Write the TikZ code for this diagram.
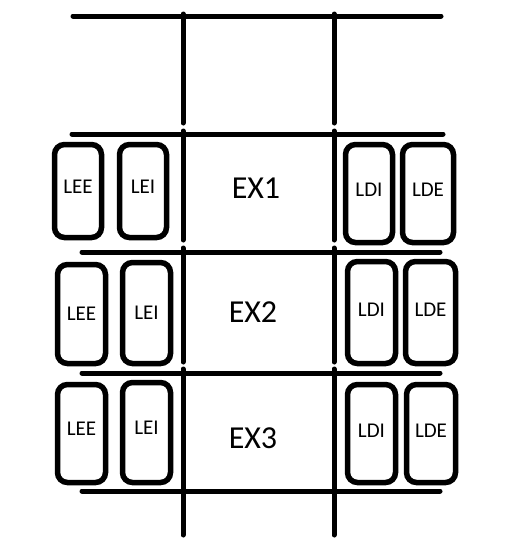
\documentclass[tikz,border=0pt]{standalone}
\usepackage{fontspec}
\setmainfont{Carlito}
\usetikzlibrary{positioning}
\tikzset{
  lane/.style={draw, line width=5.5pt, rounded corners=10pt, inner sep=0pt, minimum width=47pt, minimum height=98pt, font=\fontsize{21}{25}\selectfont},
  bar/.style={line width=5pt, line cap=round},
  stage/.style={font=\fontsize{32}{37}\selectfont}
}

\begin{document}
\begin{tikzpicture}[x=1pt, y=-1pt]
  \useasboundingbox (0,0) rectangle (518,539);
  % horizontal bars
  \draw[bar] (73,16) -- (441,16);
  \draw[bar] (72,134) -- (443,134);
  \foreach \y in {252,373,491} \draw[bar] (82,\y) -- (440,\y);
  % vertical bars, broken at each stage
  \foreach \x in {183,334} {
    \draw[bar] (\x,14) -- (\x,123);
    \draw[bar] (\x,131) -- (\x,240);
    \draw[bar] (\x,248) -- (\x,362);
    \draw[bar] (\x,369) -- (\x,535);
  }
  % stages
  \node[stage] (ex1) at (256,188) {EX1};
  \node[stage] (ex2) at (253,312) {EX2};
  \node[stage] (ex3) at (253,438) {EX3};
  % row 1
  \node[lane, minimum height=93pt, text depth=8pt] (lee1) at (78,191) {LEE};
  \node[lane, minimum height=93pt, text depth=8pt] (lei1) at (143,191) {LEI};
  \node[lane, text depth=8pt] (ldi1) at (369,193.5) {LDI};
  \node[lane, minimum width=51pt, text depth=8pt] (lde1) at (428,193.5) {LDE};
  % row 2
  \node[lane, minimum width=48pt, minimum height=99pt] (lee2) at (81.5,314) {LEE};
  \node[lane, minimum width=48pt, minimum height=101pt] (lei2) at (146.5,313) {LEI};
  \node[lane, minimum width=48pt, minimum height=102pt, text depth=6pt] (ldi2) at (371.5,312.5) {LDI};
  \node[lane, minimum width=50pt, minimum height=102pt, text depth=6pt] (lde2) at (430.5,312.5) {LDE};
  % row 3
  \node[lane, minimum width=48pt, text depth=10pt] (lee3) at (81.5,433.5) {LEE};
  \node[lane, minimum width=48pt, minimum height=100pt, text depth=10pt] (lei3) at (146.5,432.5) {LEI};
  \node[lane, minimum width=48pt, text depth=5pt] (ldi3) at (371.5,433.5) {LDI};
  \node[lane, minimum width=49pt, text depth=5pt] (lde3) at (431,433.5) {LDE};
\end{tikzpicture}
\end{document}
